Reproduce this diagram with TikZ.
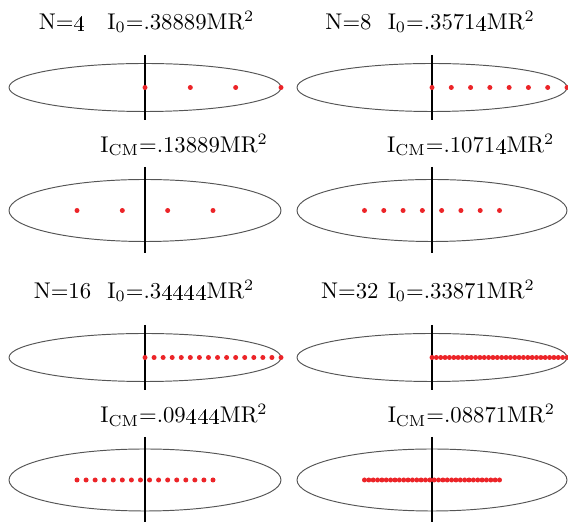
\documentclass[tikz,border=0pt]{standalone}
\definecolor{dotred}{RGB}{236,36,40}
\definecolor{ellgray}{RGB}{85,85,85}
\newcommand\ff{\raisebox{1.2pt}{\oldstylenums{4}}}
\newcommand\mypanel[8]{%
  \draw[ell] (#1,#2) ellipse [x radius=#3, y radius=#4];
  \draw[axisline] (#1,#5) -- (#1,#6);
  \pgfmathtruncatemacro\nlast{#7-1}
  \foreach \k in {0,...,\nlast}{\fill[dotc] ({#1 + #3*(\k/\nlast - #8/2)}, #2) circle [radius=2.5];}
}
\tikzset{
  ell/.style={draw=ellgray, line width=0.42pt},
  axisline/.style={draw=black, line width=1pt},
  dotc/.style={fill=dotred},
  lbl/.style={anchor=base west, inner sep=0pt, font=\normalsize}
}
\begin{document}
\begin{tikzpicture}[x=0.44pt, y=-0.44pt]
\useasboundingbox (0,0) rectangle (568,522);
% left column
\node[lbl] (t1a) at (38.3,29.3) {N=\ff};
\node[lbl] (t1b) at (107,29.3) {I$_0$=.38889MR$^2$};
\node[lbl] (t2) at (100,152.5) {I$_{\rm CM}$=.13889MR$^2$};
\node[lbl] (t3a) at (33.3,298.3) {N=16};
\node[lbl] (t3b) at (107,298.3) {I$_0$=.3\ff\ff\ff\ff MR$^2$};
\node[lbl] (t4) at (100,422.7) {I$_{\rm CM}$=.09\ff\ff\ff MR$^2$};
% right column
\node[lbl] (r1a) at (325,29.3) {N=8};
\node[lbl] (r1b) at (387.3,29.3) {I$_0$=.3571\ff MR$^2$};
\node[lbl] (r2) at (386.7,152.5) {I$_{\rm CM}$=.1071\ff MR$^2$};
\node[lbl] (r3a) at (320.7,298.3) {N=32};
\node[lbl] (r3b) at (387.3,298.3) {I$_0$=.33871MR$^2$};
\node[lbl] (r4) at (387.3,423) {I$_{\rm CM}$=.08871MR$^2$};
% panels: cx, cy, R, ry, ytop, ybot, N, shift
\mypanel{145}{87.5}{136}{24}{55}{120}{4}{0}
\mypanel{145}{210.5}{136}{31}{167}{253}{4}{1}
\mypanel{145}{357.5}{136}{24}{325}{390}{16}{0}
\mypanel{145}{480}{136}{31}{437}{522}{16}{1}
\mypanel{432}{87.5}{135}{24}{55}{120}{8}{0}
\mypanel{432}{210.5}{135}{31}{167}{253}{8}{1}
\mypanel{432}{357.5}{135}{24}{325}{390}{32}{0}
\mypanel{432}{480}{135}{31}{437}{522}{32}{1}
\end{tikzpicture}
\end{document}
